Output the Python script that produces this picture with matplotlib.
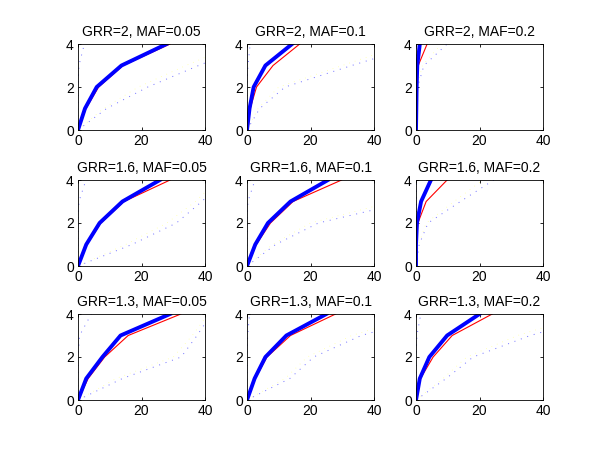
import matplotlib as mpl
mpl.use("Agg")
import matplotlib.pyplot as plt

mpl.rcParams['font.family'] = ['Liberation Sans', 'DejaVu Sans']
mpl.rcParams['font.size'] = 10

GRR = ["2", "1.6", "1.3"]
MAF = ["0.05", "0.1", "0.2"]
LEVELS = [0, 1, 2, 3, 4]

# x position where each curve reaches y = 0..4, one row per panel (row-major)
THICK_X = [
    [0, 2.2, 5.9, 13.7, 27.9],
    [0, 0.8, 2.1, 5.8, 14.2],
    [0, 0.1, 0.2, 0.4, 1.2],
    [0, 2.6, 6.8, 14.0, 25.8],
    [0, 2.6, 6.6, 13.7, 25.5],
    [0, 0, 0.3, 1.6, 4.7],
    [0, 2.6, 7.7, 13.4, 29.0],
    [0, 2.4, 5.8, 12.4, 25.0],
    [0, 1.2, 4.2, 9.8, 20.0],
]
THIN_X = [
    [0, 2.5, 6.5, 14.2, 29.0],
    [0.3, 1.0, 3.0, 8.2, 16.6],
    [0, 0, 0.1, 0.7, 3.5],
    [0, 2.8, 7.2, 14.5, 29.0],
    [0, 2.9, 7.4, 14.5, 29.8],
    [0, 0.1, 0.6, 3.2, 9.8],
    [0, 3.2, 8.4, 15.8, 32.4],
    [0, 2.6, 6.3, 13.7, 27.9],
    [0, 1.4, 5.4, 11.4, 24.0],
]
DOT_X = [
    [0, 9, 22, 38, 55],
    [0, 4, 12, 33, 55],
    [0, 0, 0.5, 2.5, 9.8],
    [0, 17, 31, 39, 46],
    [0, 9, 22.5, 51, 80],
    [0, 1, 3.8, 14, 24.5],
    [0, 14, 32.5, 37.5, 42],
    [0, 13.5, 21, 36, 60],
    [0, 9.5, 18, 36, 60],
]
EDGE_X = [
    [0, 0, 0, 0.3, 2.0],
    [0, 0, 0, 0.3, 1.0],
    [0, 0, 0, 0, 0],
    [0, 0, 0, 0.3, 2.5],
    [0, 0, 0, 0.3, 2.5],
    [0, 0, 0, 0, 0],
    [0, 0, 0, 0.5, 4.2],
    [0, 0, 0, 0.2, 0.8],
    [0, 0, 0, 0.3, 1.5],
]
YELLOW_X = [
    [0, 8, 19, 34, 50],
    [0, 3.5, 10, 30, 50],
    [0, 0, 0.4, 2, 8],
    [0, 15, 28, 37, 44],
    [0, 8, 20, 46, 72],
    [0, 0.8, 3.2, 12, 21],
    [0, 12, 30, 36, 41],
    [0, 12, 19, 33, 55],
    [0, 8.5, 16, 32, 54],
]

fig = plt.figure(figsize=(6.0, 4.51), dpi=100)

col_left = [78, 247, 416]
row_top = [44, 180, 314]
ax_w, ax_h = 127, 86
W, H = 600.0, 451.0

for r in range(3):
    for c in range(3):
        i = r * 3 + c
        ax = fig.add_axes([col_left[c] / W, 1 - (row_top[r] + ax_h) / H,
                           ax_w / W, ax_h / H])
        ax.plot(YELLOW_X[i], LEVELS, color='#ffff00', alpha=0.35, lw=0.6, ls=(0, (1, 6)))
        ax.plot(EDGE_X[i], LEVELS, color='#6f6fff', lw=0.7, ls=(0, (1, 6)))
        ax.plot(DOT_X[i], LEVELS, color='#6f6fff', lw=0.7, ls=(0, (1, 6)))
        ax.plot(THIN_X[i], LEVELS, color='#ff0000', lw=0.8)
        ax.plot(THICK_X[i], LEVELS, color='#0000ff', lw=2.8)
        ax.set_xlim(0, 40)
        ax.set_ylim(0, 4)
        ax.set_xticks([0, 20, 40])
        ax.set_yticks([0, 2, 4])
        ax.tick_params(direction='in', length=2.5, width=0.6,
                       top=True, right=True, labelsize=10, pad=3)
        for s in ax.spines.values():
            s.set_linewidth(0.6)
        ax.set_title("GRR=%s, MAF=%s" % (GRR[r], MAF[c]), fontsize=10, pad=6)

fig.savefig("out.png", dpi=100)
